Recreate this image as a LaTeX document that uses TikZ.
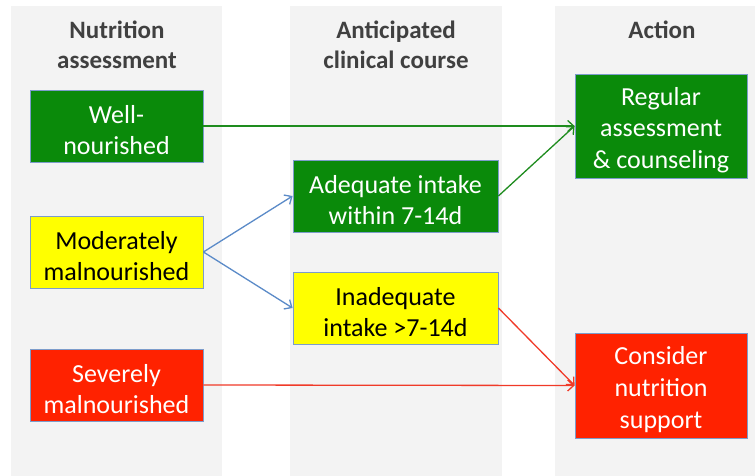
\documentclass[tikz,border=0pt]{standalone}
\usepackage{fontspec}
\setmainfont{Carlito}
\usetikzlibrary{arrows.meta}
\definecolor{bgcol}{HTML}{F3F3F3}
\definecolor{boxgreen}{HTML}{0A8A0A}
\definecolor{boxyellow}{HTML}{FFFF00}
\definecolor{boxred}{HTML}{FF2200}
\definecolor{edgeblue}{HTML}{7C9CCB}
\definecolor{headgray}{HTML}{404040}
\definecolor{argreen}{HTML}{1E8C1E}
\definecolor{arblue}{HTML}{5B8BC8}
\definecolor{arred}{HTML}{F03A28}
\newcommand\liftln{\rule{0pt}{26pt}}
\tikzset{
  colbg/.style={fill=bgcol, draw=none},
  header/.style={text=headgray, font=\fontsize{25}{30}\selectfont\bfseries, align=center, inner sep=0pt},
  box/.style={draw=edgeblue, line width=0.8pt, align=center, inner sep=0pt,
    font=\fontsize{26}{31.7}\selectfont},
  gbox/.style={box, fill=boxgreen, text=white},
  ybox/.style={box, fill=boxyellow, text=black},
  rbox/.style={box, fill=boxred, text=white},
  arr/.style={line width=1.3pt, -{Straight Barb[length=6pt,width=11pt,line width=1.3pt]}},
}
\begin{document}
\begin{tikzpicture}[x=1pt,y=-1pt]
\useasboundingbox[fill=white] (0,0) rectangle (755,476);
\fill[colbg] (11,6) rectangle (222,476);
\fill[colbg] (290,6) rectangle (502,476);
\fill[colbg] (555,6) rectangle (755,476);

\node[header] (h1) at (117,45) {Nutrition\\assessment};
\node[header] (h2) at (396,45) {Anticipated\\clinical course};
\node[header] (h3) at (662,30) {Action};

\node[gbox, minimum width=173, minimum height=72] (well) at (116.5,126) {\liftln Well-\\nourished};
\node[ybox, minimum width=173, minimum height=72] (mod) at (116.5,252) {\liftln Moderately\\malnourished};
\node[rbox, minimum width=173, minimum height=72] (sev) at (116.5,385) {\liftln Severely\\malnourished};
\node[gbox, minimum width=205, minimum height=72] (adq) at (395.5,196) {\liftln Adequate intake\\within 7-14d};
\node[ybox, minimum width=205, minimum height=72] (inadq) at (395.5,308) {\liftln Inadequate\\intake >7-14d};
\node[gbox, minimum width=172, minimum height=104] (reg) at (661,126) {\liftln Regular\\assessment\\\& counseling};
\node[rbox, minimum width=172, minimum height=105] (cons) at (661,385.5) {\liftln Consider\\nutrition\\support};

\draw[arr, argreen] (well.east) -- (reg.west);
\draw[arr, argreen] (adq.east) -- (reg.west);
\draw[arr, arblue] (mod.east) -- (adq.west);
\draw[arr, arblue] (mod.east) -- (inadq.west);
\draw[arr, arred] (inadq.east) -- (cons.west);
\draw[arr, arred] (sev.east) -- (cons.west);
\end{tikzpicture}
\end{document}
